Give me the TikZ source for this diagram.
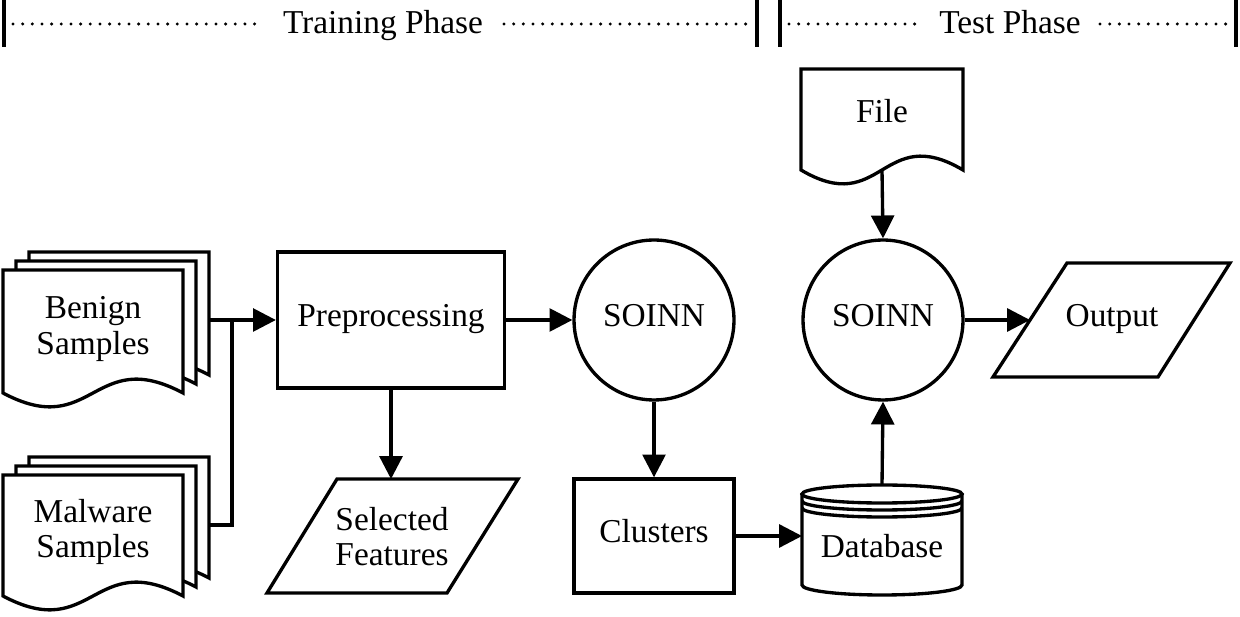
\documentclass[tikz,border=0pt]{standalone}
\usepackage{fontspec}
\setmainfont{Liberation Serif}
\usetikzlibrary{arrows.meta}
\newcommand{\docsh}[4]{\draw[shapeline, fill=white] (#1,#2) -- ++(#3,0) -- ++(0,#4) .. controls +(-#3/2,-48) and +(#3/2,48) .. ++(-#3,0) -- cycle;}
\begin{document}
\begin{tikzpicture}[x=0.02cm,y=-0.02cm,
  shapeline/.style={line width=1.9pt, line join=miter},
  arr/.style={line width=1.9pt, -{Triangle[length=13pt,width=13pt]}},
  lbl/.style={font=\fontsize{19}{20}\selectfont, align=center, inner sep=0pt},
  one/.style={lbl, text height=0.92em, text depth=0.22em},
  bar/.style={line width=2pt},
  dots/.style={line width=1.9pt, line cap=round, dash pattern=on 0pt off 5.5pt},
]
\useasboundingbox (0,0) rectangle (1240,617);

% header
\draw[bar] (4,0) -- (4,47);
\draw[bar] (757,0) -- (757,47);
\draw[bar] (780,0) -- (780,47);
\draw[bar] (1236,0) -- (1236,47);
\node[lbl, anchor=base] (train) at (383,34) {Training Phase};
\node[lbl, anchor=base] (test) at (1010,34) {Test Phase};
\draw[dots] (13,24) -- (255,24);
\draw[dots] (504,24) -- (751,24);
\draw[dots] (789,24) -- (916,24);
\draw[dots] (1100,24) -- (1233,24);

% benign stack
\docsh{29}{252}{180}{123}
\docsh{16}{261}{180}{123}
\docsh{3}{270}{180}{123}
\node[lbl] (benign) at (93,329) {Benign\\Samples};
\coordinate (benR) at (209,320);

% malware stack
\docsh{29}{457}{180}{121}
\docsh{16}{466}{180}{121}
\docsh{3}{475}{180}{121}
\node[lbl] (malware) at (93,532) {Malware\\Samples};
\coordinate (malR) at (209,525);
\coordinate (join) at (232,320);

% preprocessing
\node[one, draw, shapeline, rectangle, minimum width=4.54cm, minimum height=2.72cm] (prep) at (391,320) {Preprocessing};

% selected features
\draw[shapeline] (337,479) -- (518,479) -- (447,593) -- (267,593) -- cycle;
\node[lbl] (sel) at (392,537) {Selected\\Features};
\coordinate (selT) at (391,479);

% SOINN 1
\node[one, draw, shapeline, circle, minimum size=3.2cm] (s1) at (654,320) {SOINN};

% clusters
\node[one, draw, shapeline, rectangle, minimum width=3.2cm, minimum height=2.28cm] (cl) at (654,536) {Clusters};

% database
\draw[shapeline, fill=white] (802,494) -- (802,585) arc[start angle=180, end angle=360, x radius=1.6cm, y radius=0.2cm] -- (962,494);
\draw[shapeline] (882,494) ellipse[x radius=1.6cm, y radius=0.18cm];
\draw[shapeline] (802,501) arc[start angle=180, end angle=360, x radius=1.6cm, y radius=0.18cm];
\draw[shapeline] (802,508) arc[start angle=180, end angle=360, x radius=1.6cm, y radius=0.18cm];
\node[lbl, anchor=base] (db) at (882,558) {Database};
\coordinate (dbT) at (882,485);
\coordinate (dbL) at (802,536);

% file
\docsh{801}{69}{162}{101}
\node[lbl, anchor=base] (file) at (882,123) {File};
\coordinate (fileB) at (882,170);

% SOINN 2
\node[one, draw, shapeline, circle, minimum size=3.2cm] (s2) at (883,320) {SOINN};

% output
\draw[shapeline] (1067,263) -- (1230,263) -- (1158,377) -- (993,377) -- cycle;
\node[one] (out) at (1112,320) {Output};
\coordinate (outL) at (1030,320);

% connectors
\draw[arr] (benR) -- (prep.west);
\draw[shapeline] (malR) -| (join);
\draw[arr] (prep) -- (s1);
\draw[arr] (prep.south) -- (selT);
\draw[arr] (s1) -- (cl);
\draw[arr] (cl.east) -- (dbL);
\draw[arr] (dbT) -- (s2.south);
\draw[arr] (fileB) -- (s2.north);
\draw[arr] (s2.east) -- (outL);
\end{tikzpicture}
\end{document}
